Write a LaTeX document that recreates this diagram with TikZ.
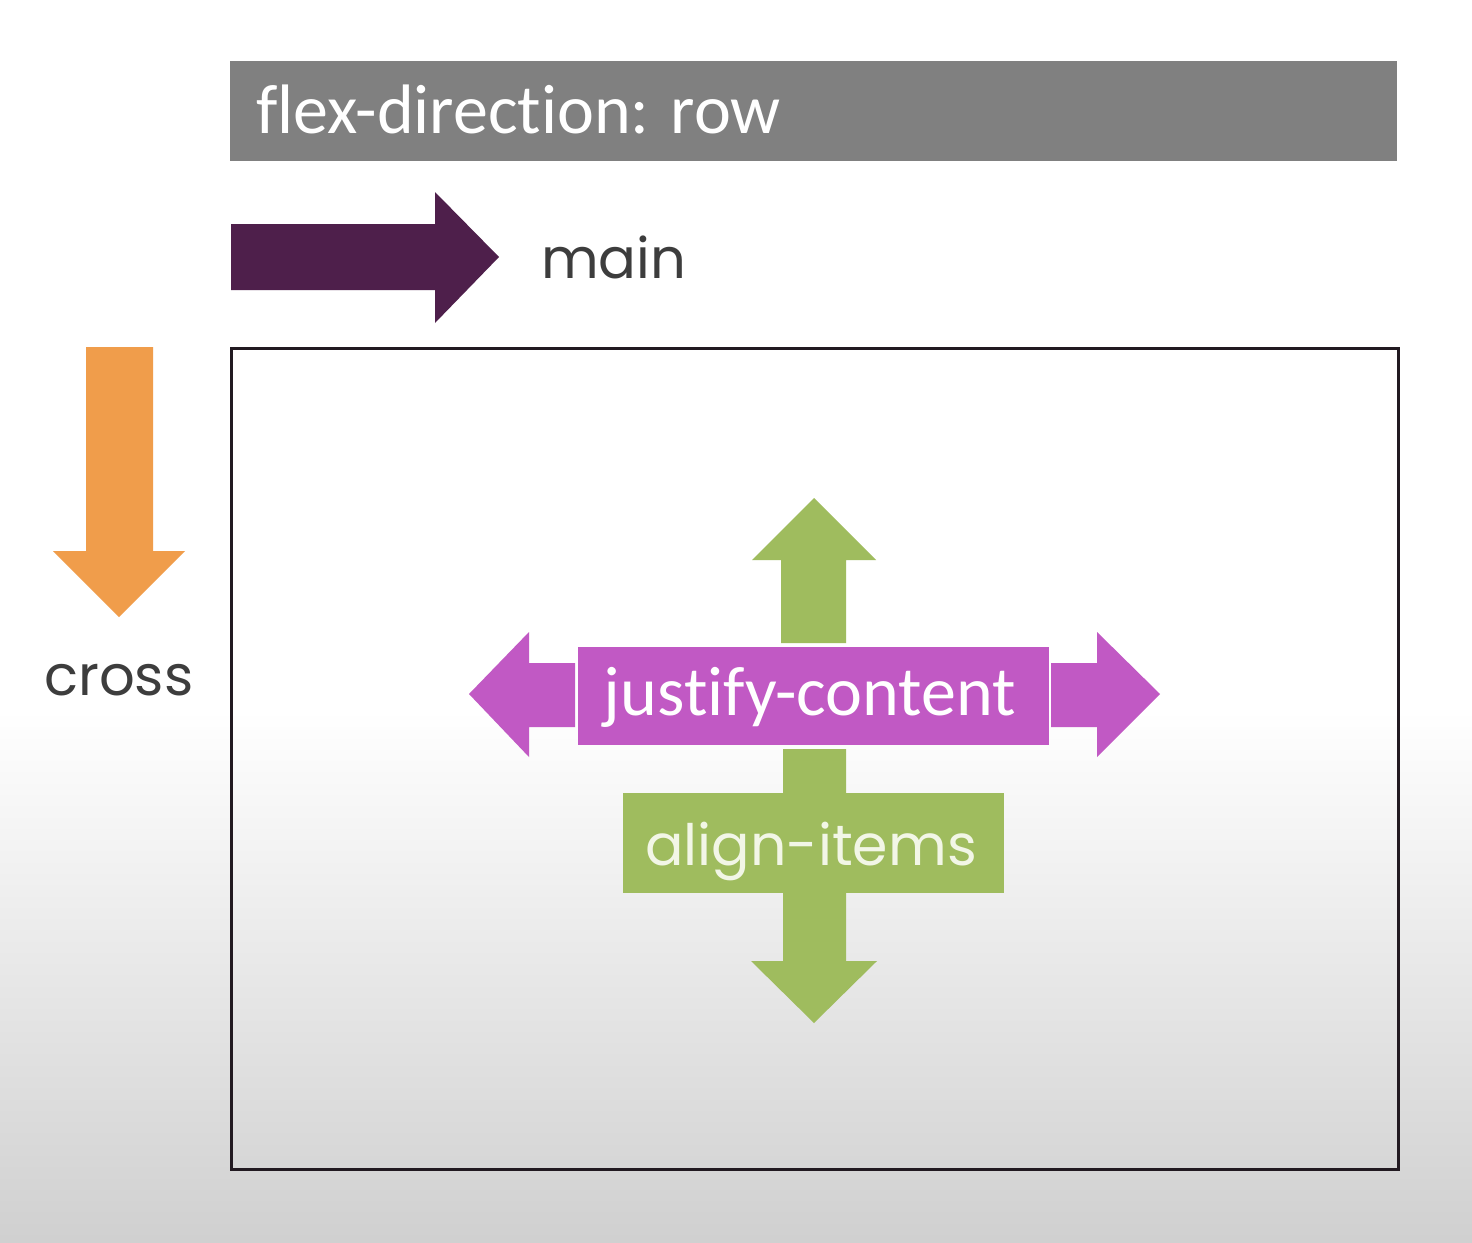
\documentclass[tikz,border=0pt]{standalone}
\usepackage{fontspec}
\setmainfont{Carlito}[Ligatures=NoCommon]
\newfontfamily\popfont{Poppins}
\definecolor{barg}{HTML}{808080}
\definecolor{mainp}{HTML}{4E1F4B}
\definecolor{crosso}{HTML}{F09D4B}
\definecolor{greena}{HTML}{9FBC5E}
\definecolor{magj}{HTML}{C159C4}
\definecolor{txtg}{HTML}{3D3D3D}
\definecolor{boxc}{HTML}{221A21}
\definecolor{cream}{HTML}{F2F6E6}
\tikzset{
  calib/.style={inner sep=0pt, font=\fontsize{70}{80}\selectfont},
  popt/.style={inner sep=0pt, text=txtg, font=\popfont\fontsize{56}{64}\selectfont},
}
\begin{document}
\begin{tikzpicture}[x=1pt,y=-1pt]
\fill[white] (0,0) rectangle (1472,1242);
\shade[top color=white,bottom color=gray!37] (0,710) rectangle (1472,1242);
\useasboundingbox (0,0) rectangle (1472,1242);
% header bar
\fill[barg] (230,61) rectangle (1397,161);
\node[calib, text=white, anchor=base west] (flex) at (256,133) {flex-direction: row};
% main arrow
\fill[mainp] (231,224) -- (435,224) -- (435,192) -- (499,257) -- (435,323) -- (435,290) -- (231,290) -- cycle;
\node[popt, anchor=base west] (main) at (541,278) {main};
% cross arrow
\fill[crosso] (86,347) -- (153,347) -- (153,551) -- (185,551) -- (119,617) -- (53,551) -- (86,551) -- cycle;
\node[popt, anchor=base west] (cross) at (44,695) {cross};
% container
\draw[line width=3pt, boxc] (231,348) rectangle (1398,1169);
% green arrows
\fill[greena] (814,498) -- (876,560) -- (846,560) -- (846,643) -- (781,643) -- (781,560) -- (752,560) -- cycle;
\fill[greena] (783,749) -- (846,749) -- (846,961) -- (877,961) -- (814,1023) -- (751,961) -- (783,961) -- cycle;
\fill[greena] (623,793) rectangle (1004,893);
\node[popt, text=cream, font=\popfont\fontsize{57}{64}\selectfont, anchor=base] (align) at (811,865) {align-items};
% magenta arrows
\fill[magj] (469,694) -- (529,632) -- (529,663) -- (575,663) -- (575,727) -- (529,727) -- (529,757) -- cycle;
\fill[magj] (1051,663) -- (1097,663) -- (1097,632) -- (1160,694) -- (1097,757) -- (1097,727) -- (1051,727) -- cycle;
\fill[magj] (578,647) rectangle (1049,745);
\node[calib, text=white, anchor=base] (just) at (810,715) {justify-content};
\end{tikzpicture}
\end{document}
